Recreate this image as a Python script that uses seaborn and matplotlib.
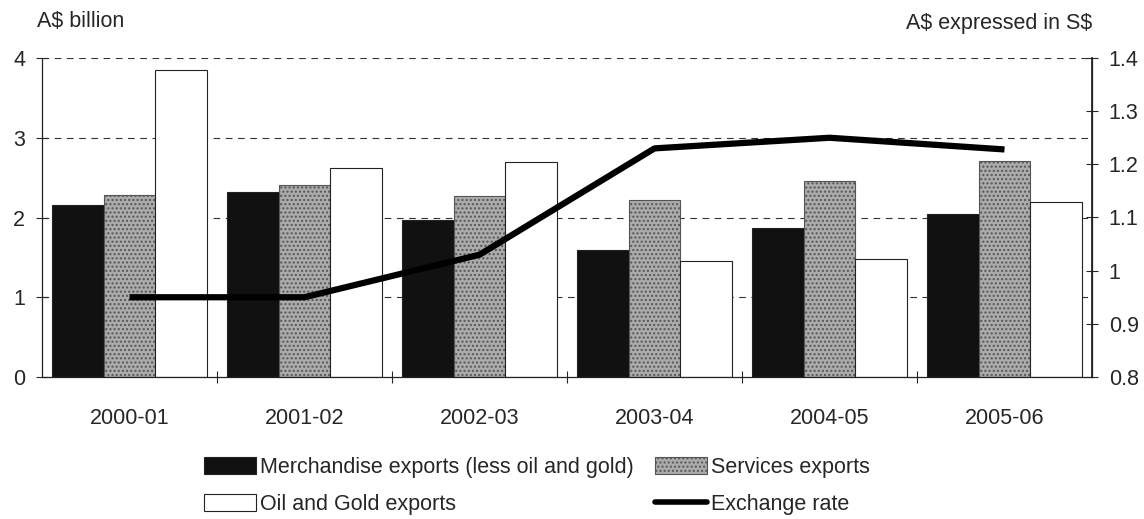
import matplotlib
matplotlib.use("Agg")
import matplotlib.pyplot as plt
import seaborn as sns
import pandas as pd
import numpy as np
from matplotlib.patches import Patch
from matplotlib.lines import Line2D

years = ["2000-01", "2001-02", "2002-03", "2003-04", "2004-05", "2005-06"]
merchandise = [2.16, 2.32, 1.97, 1.59, 1.87, 2.05]
services = [2.28, 2.41, 2.27, 2.22, 2.46, 2.71]
oil_gold = [3.85, 2.62, 2.69, 1.46, 1.48, 2.20]
exchange_rate = [0.95, 0.95, 1.03, 1.23, 1.25, 1.228]

series_names = ["Merchandise exports (less oil and gold)", "Services exports", "Oil and Gold exports"]
colors = ["#111111", "#ababab", "#ffffff"]

sns.set_theme(style="white")
plt.rcParams['font.family'] = ['Liberation Sans', 'DejaVu Sans']

df = pd.DataFrame({
    "year": years * 3,
    "value": merchandise + services + oil_gold,
    "series": [series_names[0]] * 6 + [series_names[1]] * 6 + [series_names[2]] * 6,
})

FS = 15.5

fig = plt.figure(figsize=(11.44, 5.19), dpi=100)
ax = fig.add_axes([42 / 1144, 1 - 377 / 519, 1050 / 1144, 319 / 519])

sns.barplot(data=df, x="year", y="value", hue="series", palette=colors,
            edgecolor="#222222", linewidth=0.8, width=0.89, saturation=1,
            ax=ax, legend=False)

# speckle texture for services bars
for i, p in enumerate(ax.patches):
    if 6 <= i < 12:
        p.set_hatch("....")
        p.set_edgecolor("#555555")

ax.set_ylim(0, 4)
ax.set_xlim(-0.5, 5.5)
ax.set_yticks([0, 1, 2, 3, 4])
ax.set_xlabel("")
ax.set_ylabel("")
for yv in [1, 2, 3, 4]:
    ax.axhline(yv, color="#333333", linestyle=(0, (6, 5)), linewidth=0.8, zorder=0)
ax.set_axisbelow(True)

ax.spines["top"].set_visible(False)
for s in ["left", "right", "bottom"]:
    ax.spines[s].set_color("#222222")
    ax.spines[s].set_linewidth(0.9)

ax.tick_params(axis="y", direction="inout", length=8, width=0.8, labelsize=FS, pad=8, left=True)
ax.set_xticks(np.arange(6))
ax.set_xticklabels(years)
ax.tick_params(axis="x", length=0, labelsize=FS, pad=22)
ax.set_xticks(np.arange(0.5, 5.0, 1.0), minor=True)
ax.tick_params(axis="x", which="minor", direction="inout", length=8, width=0.8, bottom=True)

ax2 = ax.twinx()
sns.lineplot(x=np.arange(6), y=exchange_rate, color="black", linewidth=4.5, ax=ax2,
             solid_capstyle="butt", solid_joinstyle="round")
ax2.set_ylim(0.8, 1.4)
ax2.set_yticks([0.8, 0.9, 1.0, 1.1, 1.2, 1.3, 1.4])
ax2.set_yticklabels(["0.8", "0.9", "1", "1.1", "1.2", "1.3", "1.4"])
ax2.tick_params(axis="y", direction="inout", length=8, width=0.8, labelsize=FS, pad=8, right=True)
ax2.spines["top"].set_visible(False)
ax2.spines["right"].set_color("#222222")
ax2.spines["left"].set_visible(False)
ax2.spines["bottom"].set_visible(False)
ax2.set_xlim(-0.5, 5.5)

fig.text(37 / 1144, 1 - 22 / 519, "A\\$ billion", fontsize=FS, va="center", ha="left")
fig.text(1092 / 1144, 1 - 24 / 519, "A\\$ expressed in S\\$", fontsize=FS, va="center", ha="right")

handles = [
    Patch(facecolor=colors[0], edgecolor="#222222", linewidth=0.8),
    Patch(facecolor=colors[2], edgecolor="#222222", linewidth=0.8),
    Patch(facecolor=colors[1], edgecolor="#555555", hatch="....", linewidth=0.8),
    Line2D([0], [0], color="black", linewidth=4),
]
labels = [series_names[0], series_names[2], series_names[1], "Exchange rate"]
fig.legend(handles, labels, ncol=2, loc="center", bbox_to_anchor=(537 / 1144, 1 - 486 / 519),
           frameon=False, fontsize=FS, handlelength=2.4, handleheight=0.8, handletextpad=0.2,
           columnspacing=1.0, labelspacing=0.75)

fig.savefig("out.png", dpi=100)
